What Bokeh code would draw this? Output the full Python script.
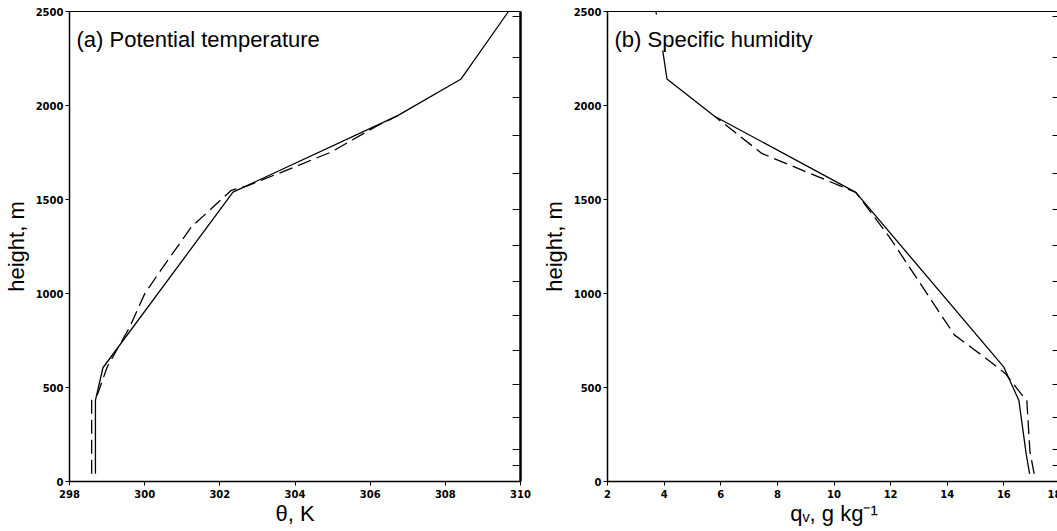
from bokeh.plotting import figure
from bokeh.layouts import row
from bokeh.models import Range1d, FixedTicker, LinearAxis, Label, BoxAnnotation
from bokeh.embed import file_html
from bokeh.resources import INLINE

# ---------------- data ----------------
height_ticks = [0, 500, 1000, 1500, 2000, 2500]
theta_ticks = [298, 300, 302, 304, 306, 308, 310]
q_ticks = [2, 4, 6, 8, 10, 12, 14, 16, 18]
model_levels = [84, 169, 339, 516, 697, 881, 1065, 1255, 1445, 1640, 1840, 2044, 2254, 2475]

# (a) potential temperature, solid (observed) and dashed (model)
theta_obs_h = [41, 431, 605, 1539, 1945, 2141, 2500]
theta_obs = [298.69, 298.69, 298.89, 302.35, 306.72, 308.42, 309.68]
theta_mod_h = [41, 431, 466, 608, 821, 998, 1113, 1353, 1548, 1574, 1637, 1752, 1885, 1945]
theta_mod = [298.59, 298.59, 298.75, 299.00, 299.60, 300.00, 300.39, 301.24, 302.30,
             302.75, 303.54, 304.96, 306.12, 306.72]

# (b) specific humidity, solid (observed) and dashed (model)
q_obs_h = [41, 144, 431, 608, 1538, 1943, 2141, 2293, 2500]
q_obs = [16.91, 16.79, 16.53, 16.00, 10.77, 5.78, 4.10, 3.95, 3.71]
q_mod_h = [41, 160, 431, 466, 575, 640, 780, 1300, 1538, 1745, 1943]
q_mod = [17.07, 16.92, 16.81, 16.61, 16.05, 15.50, 14.25, 11.96, 10.77, 7.45, 5.78]

TICK_FONT = "DejaVu Sans"
TEXT_FONT = "Liberation Sans"


def make_fig(xr, xticks, frame_w, left, right):
    p = figure(frame_width=frame_w, frame_height=470,
               x_range=Range1d(*xr), y_range=Range1d(0, 2500),
               output_backend="svg", toolbar_location=None,
               min_border_left=left, min_border_right=right,
               min_border_top=11, min_border_bottom=50,
               background_fill_color="white", border_fill_color="white")
    p.xgrid.visible = False
    p.ygrid.visible = False
    p.outline_line_color = "black"
    p.outline_line_width = 1
    p.xaxis.ticker = FixedTicker(ticks=xticks)
    p.yaxis.ticker = FixedTicker(ticks=height_ticks)
    for ax in (p.xaxis[0], p.yaxis[0]):
        ax.major_label_text_font = TICK_FONT
        ax.major_label_text_font_style = "bold"
        ax.major_label_text_font_size = "10px"
        ax.major_label_text_color = "black"
        ax.major_tick_in = 0
        ax.major_tick_out = 4
        ax.major_tick_line_color = "black"
        ax.minor_tick_line_color = None
        ax.axis_line_color = "black"
        ax.axis_line_width = 1.5
        ax.axis_label_text_font = TEXT_FONT
        ax.axis_label_text_font_style = "normal"
        ax.axis_label_text_font_size = "22px"
        ax.axis_label_text_color = "black"
    p.yaxis.major_label_standoff = 2
    p.xaxis.major_label_standoff = 4
    p.yaxis.axis_label = "height, m"
    p.yaxis.axis_label_standoff = 4
    p.xaxis.axis_label_standoff = 0
    rax = LinearAxis(ticker=FixedTicker(ticks=model_levels),
                     major_tick_in=8, major_tick_out=0,
                     major_label_overrides={lv: "" for lv in model_levels},
                     major_label_standoff=0,
                     minor_tick_line_color=None, axis_line_width=2.5,
                     axis_line_color="black", major_tick_line_color="black")
    p.add_layout(rax, "right")
    return p


def panel_title(text, x0):
    return Label(x=x0, y=2500, x_offset=7, y_offset=-28,
                 text=text, text_font=TEXT_FONT,
                 text_font_size="22px", text_baseline="alphabetic",
                 text_color="black")


# ---------- panel (a) ----------
pa = make_fig((298, 310), theta_ticks, 451, 65, 11)
pa.xaxis.axis_label = "θ, K"
pa.line(theta_obs, theta_obs_h, line_color="black", line_width=1.3)
pa.line(theta_mod, theta_mod_h, line_color="black", line_width=1.3, line_dash="14 6")
pa.add_layout(panel_title("(a) Potential temperature", 298))

# ---------- panel (b) ----------
pb = make_fig((2, 18), q_ticks, 453, 76, 1)
pb.xaxis.axis_label = "qᵥ, g kg⁻¹"
pb.line(q_obs, q_obs_h, line_color="black", line_width=1.3)
pb.line(q_mod, q_mod_h, line_color="black", line_width=1.3, line_dash="14 6")
# white box behind the panel title (it hides the curve there, as in the original)
pb.add_layout(BoxAnnotation(left=2.35, right=9.65, bottom=2293, top=2484,
                            fill_color="white", fill_alpha=1.0, line_color=None))
pb.add_layout(panel_title("(b) Specific humidity", 2))

layout = row(pa, pb)
open("out.html", "w").write(file_html(layout, INLINE))
